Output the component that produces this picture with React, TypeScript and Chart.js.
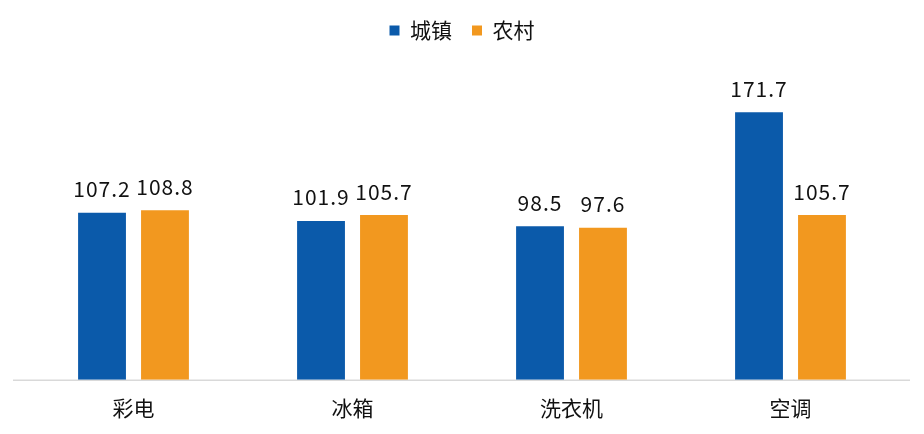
import React, { useEffect, useRef } from "react";
import { Chart, registerables } from "chart.js";

Chart.register(...registerables);

const categories = ["彩电", "冰箱", "洗衣机", "空调"];
const urban = [107.2, 101.9, 98.5, 171.7];
const rural = [108.8, 105.7, 97.6, 105.7];
const seriesNames = ["城镇", "农村"];

const FONT = '"Noto Sans CJK SC", "Noto Sans", sans-serif';

const labelPlugin = {
  id: "barLabels",
  beforeDatasetsDraw(chart: any) {
    const ctx = chart.ctx;
    const a = chart.chartArea;
    ctx.save();
    ctx.strokeStyle = "#d9d9d9";
    ctx.lineWidth = 1.5;
    ctx.beginPath();
    ctx.moveTo(a.left - 11, a.bottom + 0.5);
    ctx.lineTo(a.right + 10, a.bottom + 0.5);
    ctx.stroke();
    ctx.restore();
  },
  afterDatasetsDraw(chart: any) {
    const ctx = chart.ctx;
    ctx.save();
    ctx.font = `21px ${FONT}`;
    try { (ctx as any).letterSpacing = "1px"; } catch (e) {}
    ctx.fillStyle = "#111111";
    ctx.textAlign = "center";
    ctx.textBaseline = "bottom";
    chart.data.datasets.forEach((ds: any, i: number) => {
      const meta = chart.getDatasetMeta(i);
      meta.data.forEach((el: any, j: number) => {
        ctx.fillText(ds.data[j].toFixed(1), el.x, el.y - 13);
      });
    });
    ctx.restore();
  },
};

export default function App() {
  const ref = useRef<HTMLCanvasElement>(null);
  useEffect(() => {
    if (!ref.current) return;
    const chart = new Chart(ref.current, {
      type: "bar",
      data: {
        labels: categories,
        datasets: [
          { label: seriesNames[0], data: urban, backgroundColor: "#0B5AAA" },
          { label: seriesNames[1], data: rural, backgroundColor: "#F2981F" },
        ],
      },
      options: {
        responsive: false,
        animation: false,
        layout: { padding: { left: 24, right: 24, top: 0, bottom: 5 } },
        datasets: {
          bar: { categoryPercentage: 0.575, barPercentage: 0.76 },
        } as any,
        plugins: {
          legend: {
            position: "top",
            labels: {
              boxWidth: 10,
              boxHeight: 10,
              padding: 20,
              color: "#111111",
              font: { size: 21, family: FONT },
            },
          },
          tooltip: { enabled: false },
        },
        scales: {
          x: {
            grid: { display: false },
            border: { display: false },
            ticks: { color: "#111111", font: { size: 21, family: FONT }, padding: 8 },
          },
          y: {
            display: false,
            min: 0,
            max: 211,
          },
        },
      },
      plugins: [labelPlugin],
    });
    return () => chart.destroy();
  }, []);
  return (
    <div style={{ position: "fixed", left: 0, top: 0, width: 924, height: 434, background: "#fff" }}>
      <canvas ref={ref} width={924} height={434} />
    </div>
  );
}
